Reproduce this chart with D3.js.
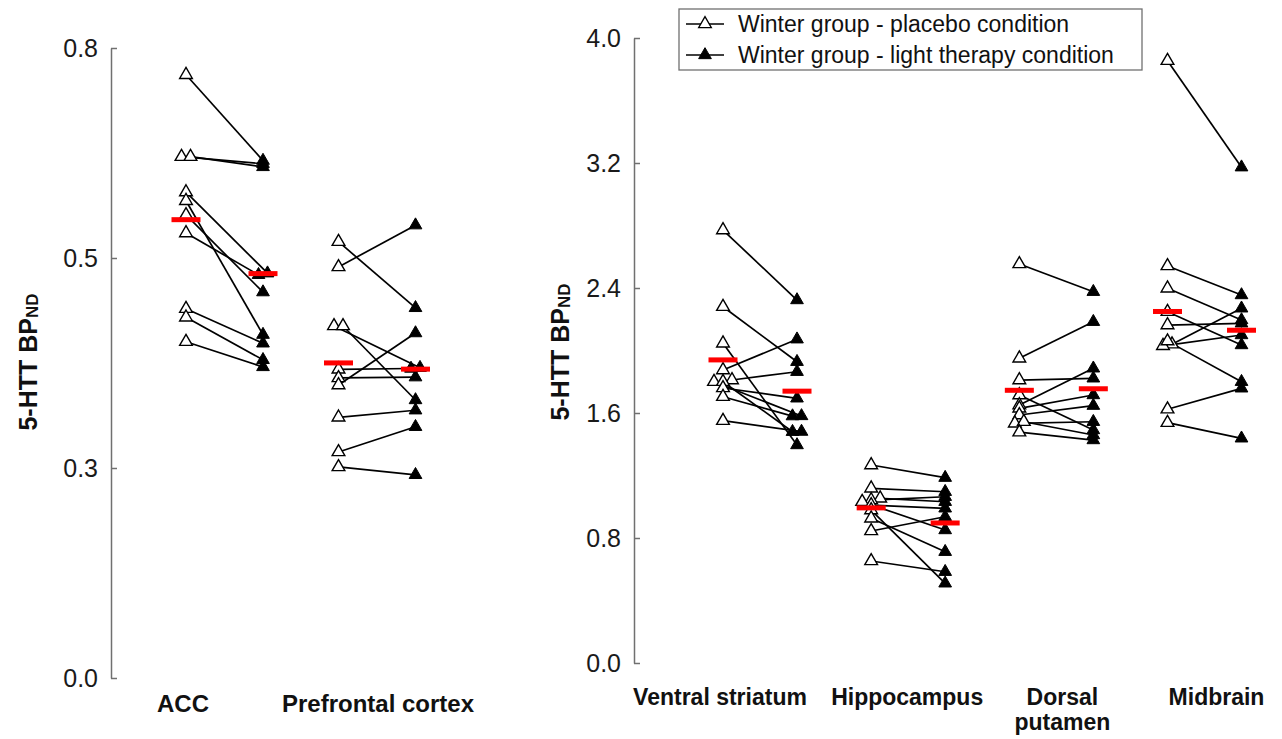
<!DOCTYPE html>
<html>
<head>
<meta charset="utf-8">
<script src="https://cdn.jsdelivr.net/npm/d3@7"></script>
<style>
  body { margin: 0; background: #fff; }
  text { font-family: "Liberation Sans", Arial, sans-serif; }
</style>
</head>
<body>
<svg width="1282" height="739"></svg>
<script>
// left panel
var leftRegions = ["ACC", "Prefrontal cortex"];
var accPlacebo = [0.766, 0.662, 0.662, 0.617, 0.606, 0.588, 0.565, 0.469, 0.458, 0.427];
var accLight   = [0.657, 0.653, 0.649, 0.514, 0.436, 0.490, 0.512, 0.425, 0.404, 0.395];
var pfcPlacebo = [0.554, 0.522, 0.447, 0.447, 0.392, 0.381, 0.372, 0.331, 0.287, 0.268];
var pfcLight   = [0.470, 0.575, 0.394, 0.353, 0.393, 0.382, 0.438, 0.340, 0.319, 0.258];
var leftTickValues = [0, 0.8 / 3, 1.6 / 3, 0.8];
var leftTickLabels = ["0.0", "0.3", "0.5", "0.8"];

// right panel
var rightRegions = [["Ventral striatum"], ["Hippocampus"], ["Dorsal", "putamen"], ["Midbrain"]];
var vsPlacebo  = [2.771, 2.280, 2.046, 1.875, 1.811, 1.800, 1.800, 1.760, 1.704, 1.551];
var vsLight    = [2.323, 1.928, 1.395, 2.072, 1.864, 1.581, 1.480, 1.694, 1.580, 1.481];
var hipPlacebo = [1.267, 1.118, 1.054, 1.043, 1.032, 1.011, 0.979, 0.926, 0.845, 0.653];
var hipLight   = [1.186, 1.096, 1.032, 1.064, 0.851, 0.990, 0.510, 0.712, 0.936, 0.584];
var dpPlacebo  = [2.554, 1.950, 1.811, 1.715, 1.651, 1.630, 1.587, 1.534, 1.544, 1.477];
var dpLight    = [2.376, 2.184, 1.822, 1.491, 1.886, 1.715, 1.647, 1.544, 1.459, 1.427];
var mbPlacebo  = [3.855, 2.541, 2.398, 2.248, 2.163, 2.040, 2.030, 2.060, 1.624, 1.538];
var mbLight    = [3.173, 2.355, 2.195, 2.035, 2.174, 2.270, 2.099, 1.800, 1.758, 1.438];
var rightTickValues = [0, 0.8, 1.6, 2.4, 3.2, 4.0];
var rightTickLabels = ["0.0", "0.8", "1.6", "2.4", "3.2", "4.0"];

var legendLabels = ["Winter group - placebo condition", "Winter group - light therapy condition"];

var svg = d3.select("svg");
var grey = "#707070";
var tri = d3.symbol().type(d3.symbolTriangle).size(70);

// spread points that sit on top of each other
function dodge(vals, y) {
    var idx = d3.range(vals.length).sort(function(a, b) { return vals[a] - vals[b]; });
    var off = vals.map(function() { return 0; });
    var grp = [idx[0]];
    for (var k = 1; k <= idx.length; k++) {
        if (k < idx.length && Math.abs(y(vals[idx[k]]) - y(vals[grp[grp.length - 1]])) < 2.5) {
            grp.push(idx[k]);
        } else {
            grp.forEach(function(j, m) { off[j] = (m - (grp.length - 1) / 2) * 9; });
            grp = [idx[k]];
        }
    }
    return off;
}

function drawPanel(p) {
    var y = d3.scaleLinear().domain(p.domain).range(p.yRange);
    var gx = d3.scaleLinear().domain([0, p.regions.length - 1]).range(p.xRange);
    var g = svg.append("g");

    var axis = d3.axisLeft(y)
        .tickValues(p.tickValues)
        .tickFormat(function(d, i) { return p.tickLabels[i]; })
        .tickSizeInner(-6)
        .tickSizeOuter(0)
        .tickPadding(13);

    var ax = g.append("g")
        .attr("transform", "translate(" + p.axisX + ",0)")
        .call(axis);
    ax.selectAll("path, line").attr("stroke", grey).attr("stroke-width", 1.5);
    ax.selectAll("text")
        .attr("font-size", 25)
        .attr("fill", "#1a1a1a")
        .attr("font-family", "Liberation Sans, Arial, sans-serif");

    // y title
    var t = g.append("text")
        .attr("transform", "translate(" + p.titleX + "," + p.titleY + ") rotate(-90)")
        .attr("text-anchor", "middle")
        .attr("font-weight", "bold")
        .attr("font-size", 25)
        .attr("fill", "#111");
    t.append("tspan").text("5-HTT BP");
    t.append("tspan").attr("font-size", 17).attr("dy", 1).text("ND");

    p.series.forEach(function(s, i) {
        var cx = gx(i);
        var xp = cx - p.half, xl = cx + p.half;
        var dp = dodge(s[0], y), dl = dodge(s[1], y);

        g.append("g").selectAll("line")
            .data(s[0])
            .enter().append("line")
            .attr("x1", function(d, k) { return xp + dp[k]; })
            .attr("y1", function(d) { return y(d); })
            .attr("x2", function(d, k) { return xl + dl[k]; })
            .attr("y2", function(d, k) { return y(s[1][k]); })
            .attr("stroke", "#000")
            .attr("stroke-width", 1.7);

        g.append("g").selectAll("path")
            .data(s[0])
            .enter().append("path")
            .attr("d", tri)
            .attr("transform", function(d, k) { return "translate(" + (xp + dp[k]) + "," + y(d) + ")"; })
            .attr("fill", "#fff")
            .attr("stroke", "#000")
            .attr("stroke-width", 1.4);

        g.append("g").selectAll("path")
            .data(s[1])
            .enter().append("path")
            .attr("d", tri)
            .attr("transform", function(d, k) { return "translate(" + (xl + dl[k]) + "," + y(d) + ")"; })
            .attr("fill", "#000")
            .attr("stroke", "#000")
            .attr("stroke-width", 1);

        [[xp, d3.mean(s[0])], [xl, d3.mean(s[1])]].forEach(function(m) {
            g.append("rect")
                .attr("x", m[0] - 14.5)
                .attr("y", y(m[1]) - 2.5)
                .attr("width", 29)
                .attr("height", 5)
                .attr("fill", "#ff0000");
        });

        var lab = g.append("text")
            .attr("text-anchor", "middle")
            .attr("font-weight", "bold")
            .attr("font-size", p.labelSize)
            .attr("fill", "#111");
        var lines = [].concat(p.regions[i]);
        lines.forEach(function(txt, r) {
            lab.append("tspan")
                .attr("x", cx + p.labelShift[i])
                .attr("y", p.labelY + r * 25)
                .text(txt);
        });
    });
}

drawPanel({
    regions: leftRegions,
    series: [[accPlacebo, accLight], [pfcPlacebo, pfcLight]],
    domain: [0, 0.8], yRange: [678, 48],
    xRange: [224.5, 377], half: 38.5,
    axisX: 111, tickValues: leftTickValues, tickLabels: leftTickLabels,
    titleX: 37, titleY: 362,
    labelY: 712, labelSize: 24, labelShift: [-41.5, 1]
});

drawPanel({
    regions: rightRegions,
    series: [[vsPlacebo, vsLight], [hipPlacebo, hipLight], [dpPlacebo, dpLight], [mbPlacebo, mbLight]],
    domain: [0, 4], yRange: [663, 38],
    xRange: [760, 1204.5], half: 37,
    axisX: 634, tickValues: rightTickValues, tickLabels: rightTickLabels,
    titleX: 569, titleY: 352,
    labelY: 705, labelSize: 23, labelShift: [-40, -1, 6, 12]
});

// legend
var leg = svg.append("g");
leg.append("rect")
    .attr("x", 679).attr("y", 9)
    .attr("width", 463).attr("height", 61)
    .attr("fill", "#fff")
    .attr("stroke", grey)
    .attr("stroke-width", 1.3);

legendLabels.forEach(function(txt, i) {
    var ly = 24 + i * 31;
    leg.append("line")
        .attr("x1", 686).attr("x2", 724)
        .attr("y1", ly).attr("y2", ly)
        .attr("stroke", "#000").attr("stroke-width", 1.4);
    leg.append("path")
        .attr("d", tri)
        .attr("transform", "translate(705," + ly + ")")
        .attr("fill", i == 0 ? "#fff" : "#000")
        .attr("stroke", "#000")
        .attr("stroke-width", i == 0 ? 1.3 : 1);
    leg.append("text")
        .attr("x", 738).attr("y", ly)
        .attr("dy", "0.35em")
        .attr("font-size", 23)
        .attr("fill", "#111")
        .text(txt);
});
</script>
</body>
</html>
